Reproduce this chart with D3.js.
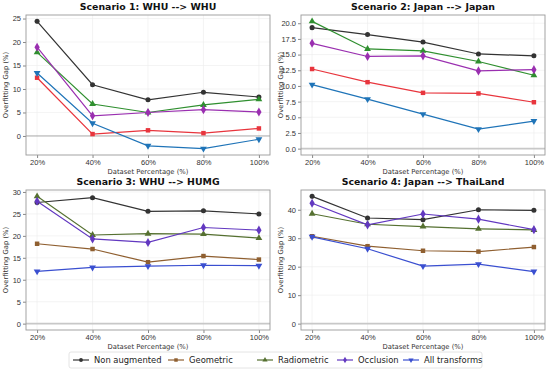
<!DOCTYPE html>
<html>
<head>
<meta charset="utf-8">
<script src="https://cdn.jsdelivr.net/npm/d3@7"></script>
<style>
  body { margin: 0; background: #fff; }
  svg { font-family: "DejaVu Sans", sans-serif; }
</style>
</head>
<body>
<svg id="chart" width="550" height="374"></svg>
<script>
// x categories (dataset percentage)
var percents = [20, 40, 60, 80, 100];
var seriesNames = ["Non augmented", "Geometric", "Radiometric", "Occlusion", "All transforms"];

// values per scenario, same order as seriesNames
var scen1 = [
    [24.4, 10.9, 7.7, 9.3, 8.3],
    [12.4, 0.4, 1.2, 0.6, 1.6],
    [17.8, 6.8, 5.0, 6.6, 7.8],
    [18.9, 4.3, 5.0, 5.6, 5.1],
    [13.4, 2.7, -2.1, -2.7, -0.7]
];
var scen2 = [
    [19.3, 18.2, 17.0, 15.1, 14.8],
    [12.7, 10.6, 8.9, 8.8, 7.4],
    [20.3, 15.9, 15.6, 13.9, 11.7],
    [16.8, 14.7, 14.8, 12.4, 12.6],
    [10.2, 7.9, 5.5, 3.1, 4.4]
];
var scen3 = [
    [27.6, 28.7, 25.6, 25.7, 25.0],
    [18.2, 17.0, 14.0, 15.4, 14.6],
    [29.0, 20.2, 20.5, 20.4, 19.5],
    [27.9, 19.3, 18.5, 21.9, 21.3],
    [11.9, 12.8, 13.1, 13.3, 13.2]
];
var scen4 = [
    [44.7, 37.1, 36.5, 40.0, 39.8],
    [30.7, 27.2, 25.6, 25.3, 26.9],
    [38.6, 34.9, 34.1, 33.3, 32.9],
    [42.3, 34.7, 38.5, 36.7, 33.0],
    [30.5, 26.3, 20.2, 20.9, 18.3]
];

var titles = ["Scenario 1: WHU --> WHU", "Scenario 2: Japan --> Japan",
              "Scenario 3: WHU --> HUMG", "Scenario 4: Japan --> ThaiLand"];
var yTicks1 = [0, 5, 10, 15, 20, 25];
var yTicks2 = [0, 2.5, 5, 7.5, 10, 12.5, 15, 17.5, 20];
var yTicks3 = [0, 5, 10, 15, 20, 25, 30];
var yTicks4 = [0, 10, 20, 30, 40];

var colorsTop = ["#333333", "#e8353d", "#2f8f2f", "#9a2fb0", "#1f74b8"];
var colorsBottom = ["#333333", "#8f5f30", "#557030", "#6238c0", "#3a4fd0"];
var symbols = [d3.symbolCircle, d3.symbolSquare, d3.symbolTriangle, d3.symbolDiamond, d3.symbolTriangle];

var svg = d3.select("#chart");

var panels = [
    {data: scen1, ticks: yTicks1, fmt: d3.format("d"), colors: colorsTop, x0: 26, y0: 15, zeroThin: true},
    {data: scen2, ticks: yTicks2, fmt: d3.format(".1f"), colors: colorsTop, x0: 301, y0: 15},
    {data: scen3, ticks: yTicks3, fmt: d3.format("d"), colors: colorsBottom, x0: 26, y0: 190},
    {data: scen4, ticks: yTicks4, fmt: d3.format("d"), colors: colorsBottom, x0: 301, y0: 190}
];
var pw = 244, ph = 140;

panels.forEach(function(p, i) {
    var g = svg.append("g").attr("transform", "translate(" + p.x0 + "," + p.y0 + ")");

    var all = d3.merge(p.data);
    var lo = Math.min(0, d3.min(all)), hi = d3.max(all);
    var pad = (hi - lo) * 0.05;

    var x = d3.scaleLinear().domain([16, 104]).range([0, pw]);
    var y = d3.scaleLinear().domain([lo - pad, hi + pad]).range([ph, 0]);

    // grid
    g.append("g").selectAll("line").data(percents).enter().append("line")
        .attr("x1", function(d) { return x(d); }).attr("x2", function(d) { return x(d); })
        .attr("y1", 0).attr("y2", ph)
        .attr("stroke", "#ececec").attr("stroke-width", 0.6);
    g.append("g").selectAll("line").data(p.ticks).enter().append("line")
        .attr("y1", function(d) { return y(d); }).attr("y2", function(d) { return y(d); })
        .attr("x1", 0).attr("x2", pw)
        .attr("stroke", "#ececec").attr("stroke-width", 0.6);

    // zero line
    g.append("line")
        .attr("x1", 0).attr("x2", pw)
        .attr("y1", y(0)).attr("y2", y(0))
        .attr("stroke", p.zeroThin ? "#999" : "#c8c8c8")
        .attr("stroke-width", p.zeroThin ? 0.8 : 1.8);

    // axes
    var xAxis = d3.axisBottom(x).tickValues(percents)
        .tickFormat(function(d) { return d + "%"; }).tickSize(3).tickPadding(2);
    var yAxis = d3.axisLeft(y).tickValues(p.ticks).tickFormat(p.fmt).tickSize(3).tickPadding(2);

    var gx = g.append("g").attr("transform", "translate(0," + ph + ")").call(xAxis);
    var gy = g.append("g").call(yAxis);
    [gx, gy].forEach(function(a) {
        a.select(".domain").remove();
        a.selectAll(".tick line").attr("stroke", "#555").attr("stroke-width", 0.7);
        a.selectAll(".tick text").attr("fill", "#333").style("font-size", "7.5px");
    });

    // frame
    g.append("rect").attr("width", pw).attr("height", ph)
        .attr("fill", "none").attr("stroke", "#9a9a9a").attr("stroke-width", 0.9);

    // lines and markers
    var line = d3.line()
        .x(function(d, j) { return x(percents[j]); })
        .y(function(d) { return y(d); });

    p.data.forEach(function(vals, s) {
        var c = p.colors[s];
        g.append("path").datum(vals)
            .attr("d", line).attr("fill", "none")
            .attr("stroke", c).attr("stroke-width", 1.2);
        var sym = d3.symbol().type(symbols[s]).size(s === 3 ? 24 : 20);
        g.append("g").selectAll("path").data(vals).enter().append("path")
            .attr("d", sym)
            .attr("transform", function(d, j) {
                return "translate(" + x(percents[j]) + "," + y(d) + ")" + (s === 4 ? " rotate(180)" : "");
            })
            .attr("fill", c);
    });

    // titles and labels
    g.append("text").attr("x", pw / 2).attr("y", -5)
        .attr("text-anchor", "middle").style("font-size", "9.4px").style("font-weight", "bold")
        .attr("fill", "#111").text(titles[i]);
    g.append("text").attr("x", pw / 2).attr("y", ph + 19)
        .attr("text-anchor", "middle").style("font-size", "6.8px").attr("fill", "#333")
        .text("Dataset Percentage (%)");
    g.append("text").attr("transform", "translate(-18," + (ph / 2) + ") rotate(-90)")
        .attr("text-anchor", "middle").style("font-size", "6.8px").attr("fill", "#333")
        .text("Overfitting Gap (%)");
});

// legend
var legend = svg.append("g").attr("transform", "translate(69,352)");
legend.append("rect").attr("width", 413).attr("height", 16).attr("rx", 2)
    .attr("fill", "#fff").attr("stroke", "#ddd").attr("stroke-width", 0.8);
var legX = [4, 99, 188, 268, 334];
seriesNames.forEach(function(name, s) {
    var it = legend.append("g").attr("transform", "translate(" + legX[s] + ",8)");
    var c = colorsBottom[s];
    it.append("line").attr("x1", 0).attr("x2", 16).attr("stroke", c).attr("stroke-width", 1.2);
    it.append("path").attr("d", d3.symbol().type(symbols[s]).size(12))
        .attr("transform", "translate(8,0)" + (s === 4 ? " rotate(180)" : "")).attr("fill", c);
    it.append("text").attr("x", 21).attr("y", 3).style("font-size", "8.4px").attr("fill", "#222").text(name);
});
</script>
</body>
</html>
